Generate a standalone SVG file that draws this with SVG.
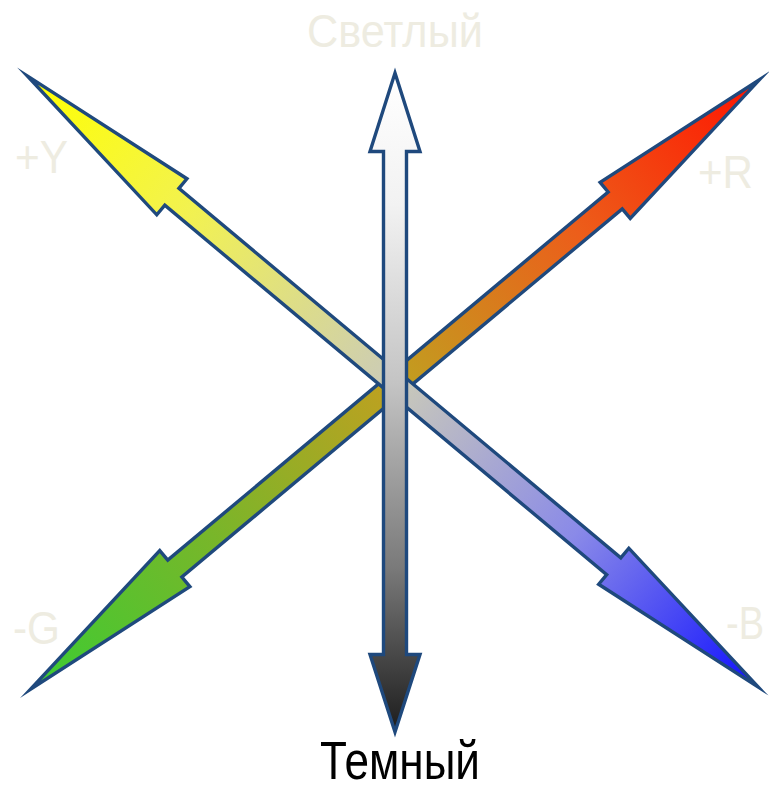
<svg xmlns="http://www.w3.org/2000/svg" width="769" height="785" viewBox="0 0 769 785">
  <style>
    .arrow { stroke: #1f497d; stroke-width: 3.4; stroke-linejoin: miter; stroke-miterlimit: 20; }
    .lbl { font-family: "Liberation Sans", Arial, sans-serif; fill: #eeece1; font-size: 46px; }
    .dark { font-family: "Liberation Sans", Arial, sans-serif; fill: #000000; font-size: 54px; }
  </style>
  <defs>
    <linearGradient id="gYB" gradientUnits="userSpaceOnUse" x1="-475" y1="0" x2="475" y2="0">
      <stop offset="0" stop-color="#ffff00"/>
      <stop offset="0.22" stop-color="#f2f250"/>
      <stop offset="0.5" stop-color="#cbcbb8"/>
      <stop offset="0.75" stop-color="#8a8ae8"/>
      <stop offset="1" stop-color="#1010ff"/>
    </linearGradient>
    <linearGradient id="gGR" gradientUnits="userSpaceOnUse" x1="-475" y1="0" x2="475" y2="0">
      <stop offset="0" stop-color="#3ccc32"/>
      <stop offset="0.25" stop-color="#78b62a"/>
      <stop offset="0.5" stop-color="#c0a020"/>
      <stop offset="0.75" stop-color="#ec5e1a"/>
      <stop offset="1" stop-color="#ff1400"/>
    </linearGradient>
    <linearGradient id="gV" gradientUnits="userSpaceOnUse" x1="0" y1="73" x2="0" y2="732">
      <stop offset="0" stop-color="#ffffff"/>
      <stop offset="0.2" stop-color="#f2f2f2"/>
      <stop offset="0.47" stop-color="#c4c4c4"/>
      <stop offset="0.75" stop-color="#7a7a7a"/>
      <stop offset="1" stop-color="#1c1c1c"/>
    </linearGradient>
  </defs>
  <g id="connectors">
    <g id="arrow-green-red" transform="translate(395 384.5) rotate(-39.9)">
      <path class="arrow" fill="url(#gGR)" d="M-475,0 L-287,-23.5 L-287,-11 L287,-11 L287,-23.5 L475,0 L287,23.5 L287,11 L-287,11 L-287,23.5 Z"/>
    </g>
    <g id="arrow-yellow-blue" transform="translate(392.8 381.5) rotate(39.9)">
      <path class="arrow" fill="url(#gYB)" d="M-476,0 L-288,-23.5 L-288,-11 L288,-11 L288,-23.5 L476,0 L288,23.5 L288,11 L-288,11 L-288,23.5 Z"/>
    </g>
    <g id="arrow-light-dark">
      <path class="arrow" fill="url(#gV)" d="M395,73 L420,151.5 L406.5,151.5 L406.5,654.5 L420,654.5 L395,732 L370,654.5 L383.5,654.5 L383.5,151.5 L370,151.5 Z"/>
    </g>
  </g>
  <g id="label-light"><text class="lbl" x="395" y="47" text-anchor="middle" textLength="176" lengthAdjust="spacingAndGlyphs">Светлый</text></g>
  <g id="label-dark"><text class="dark" x="400" y="779" text-anchor="middle" textLength="160" lengthAdjust="spacingAndGlyphs">Темный</text></g>
  <g id="label-y"><text class="lbl" x="15" y="173" textLength="53" lengthAdjust="spacingAndGlyphs">+Y</text></g>
  <g id="label-r"><text class="lbl" x="698" y="188" textLength="55" lengthAdjust="spacingAndGlyphs">+R</text></g>
  <g id="label-g"><text class="lbl" x="13" y="644" textLength="47" lengthAdjust="spacingAndGlyphs">-G</text></g>
  <g id="label-b"><text class="lbl" x="726" y="639" textLength="38" lengthAdjust="spacingAndGlyphs">-B</text></g>
</svg>
